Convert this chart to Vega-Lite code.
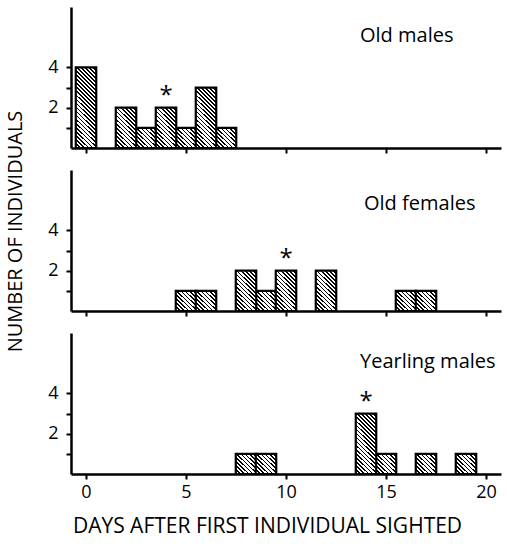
{
  "$schema": "https://vega.github.io/schema/vega-lite/v6.json",
  "padding": {"left": 5, "top": 7, "right": 5, "bottom": 5},
  "background": "white",
  "bounds": "flush",
  "spacing": 22,
  "datasets": {
    "d": [
      {"group": "Old males", "day": 0, "count": 4, "star": false},
      {"group": "Old males", "day": 2, "count": 2, "star": false},
      {"group": "Old males", "day": 3, "count": 1, "star": false},
      {"group": "Old males", "day": 4, "count": 2, "star": true},
      {"group": "Old males", "day": 5, "count": 1, "star": false},
      {"group": "Old males", "day": 6, "count": 3, "star": false},
      {"group": "Old males", "day": 7, "count": 1, "star": false},
      {"group": "Old females", "day": 5, "count": 1, "star": false},
      {"group": "Old females", "day": 6, "count": 1, "star": false},
      {"group": "Old females", "day": 8, "count": 2, "star": false},
      {"group": "Old females", "day": 9, "count": 1, "star": false},
      {"group": "Old females", "day": 10, "count": 2, "star": true},
      {"group": "Old females", "day": 12, "count": 2, "star": false},
      {"group": "Old females", "day": 16, "count": 1, "star": false},
      {"group": "Old females", "day": 17, "count": 1, "star": false},
      {"group": "Yearling males", "day": 8, "count": 1, "star": false},
      {"group": "Yearling males", "day": 9, "count": 1, "star": false},
      {"group": "Yearling males", "day": 14, "count": 3, "star": true},
      {"group": "Yearling males", "day": 15, "count": 1, "star": false},
      {"group": "Yearling males", "day": 17, "count": 1, "star": false},
      {"group": "Yearling males", "day": 19, "count": 1, "star": false}
    ]
  },
  "vconcat": [
    {
      "width": 430, "height": 141,
      "data": {"name": "d"},
      "transform": [{"filter": "datum.group == 'Old males'"}],
      "layer": [
        {
          "encoding": {
            "x": {"field": "day", "type": "quantitative", "scale": {"domain": [-0.5, 20.5], "nice": false, "zero": false},
                  "axis": {"values": [0, 5, 10, 15, 20], "labels": false, "title": null}},
            "y": {"field": "count", "type": "quantitative", "scale": {"domain": [0, 7], "nice": false},
                  "axis": {"values": [1, 2, 3, 4], "labelExpr": "datum.value % 2 == 0 ? datum.label : ''", "title": null, "labelPadding": 8}}
          },
          "layer": [
            {"transform": [{"filter": "datum.count == 1"}], "mark": {"type": "bar", "style": "h1", "width": 20.48, "stroke": "#000", "strokeWidth": 2.2}},
            {"transform": [{"filter": "datum.count == 2"}], "mark": {"type": "bar", "style": "h2", "width": 20.48, "stroke": "#000", "strokeWidth": 2.2}},
            {"transform": [{"filter": "datum.count == 3"}], "mark": {"type": "bar", "style": "h3", "width": 20.48, "stroke": "#000", "strokeWidth": 2.2}},
            {"transform": [{"filter": "datum.count == 4"}], "mark": {"type": "bar", "style": "h4", "width": 20.48, "stroke": "#000", "strokeWidth": 2.2}},
            {"transform": [{"filter": "datum.star"}], "mark": {"type": "text", "text": "*", "fontSize": 24, "dy": -12, "baseline": "middle", "color": "#000"}}
          ]
        },
        {"transform": [{"aggregate": [{"op": "count", "as": "n"}], "groupby": ["group"]}],
         "mark": {"type": "text", "align": "left", "baseline": "middle", "fontSize": 20, "color": "#000"},
         "encoding": {"x": {"datum": 13.7}, "y": {"datum": 5.55}, "text": {"field": "group", "type": "nominal"}}}
      ]
    },
    {
      "width": 430, "height": 141,
      "data": {"name": "d"},
      "transform": [{"filter": "datum.group == 'Old females'"}],
      "layer": [
        {
          "encoding": {
            "x": {"field": "day", "type": "quantitative", "scale": {"domain": [-0.5, 20.5], "nice": false, "zero": false},
                  "axis": {"values": [0, 5, 10, 15, 20], "labels": false, "title": null}},
            "y": {"field": "count", "type": "quantitative", "scale": {"domain": [0, 7], "nice": false},
                  "axis": {"values": [1, 2, 3, 4], "labelExpr": "datum.value % 2 == 0 ? datum.label : ''", "title": "NUMBER OF INDIVIDUALS", "titleFontSize": 20, "titleY": 61, "titlePadding": 22, "labelPadding": 8}}
          },
          "layer": [
            {"transform": [{"filter": "datum.count == 1"}], "mark": {"type": "bar", "style": "h1", "width": 20.48, "stroke": "#000", "strokeWidth": 2.2}},
            {"transform": [{"filter": "datum.count == 2"}], "mark": {"type": "bar", "style": "h2", "width": 20.48, "stroke": "#000", "strokeWidth": 2.2}},
            {"transform": [{"filter": "datum.count == 3"}], "mark": {"type": "bar", "style": "h3", "width": 20.48, "stroke": "#000", "strokeWidth": 2.2}},
            {"transform": [{"filter": "datum.star"}], "mark": {"type": "text", "text": "*", "fontSize": 24, "dy": -12, "baseline": "middle", "color": "#000"}}
          ]
        },
        {"transform": [{"aggregate": [{"op": "count", "as": "n"}], "groupby": ["group"]}],
         "mark": {"type": "text", "align": "left", "baseline": "middle", "fontSize": 20, "color": "#000"},
         "encoding": {"x": {"datum": 13.9}, "y": {"datum": 5.3}, "text": {"field": "group", "type": "nominal"}}}
      ]
    },
    {
      "width": 430, "height": 141,
      "data": {"name": "d"},
      "transform": [{"filter": "datum.group == 'Yearling males'"}],
      "layer": [
        {
          "encoding": {
            "x": {"field": "day", "type": "quantitative", "scale": {"domain": [-0.5, 20.5], "nice": false, "zero": false},
                  "axis": {"values": [0, 5, 10, 15, 20], "title": "DAYS AFTER FIRST INDIVIDUAL SIGHTED", "titleFontSize": 21, "titleX": 196, "titlePadding": 14, "labelPadding": 4}},
            "y": {"field": "count", "type": "quantitative", "scale": {"domain": [0, 7], "nice": false},
                  "axis": {"values": [1, 2, 3, 4], "labelExpr": "datum.value % 2 == 0 ? datum.label : ''", "title": null, "labelPadding": 8}}
          },
          "layer": [
            {"transform": [{"filter": "datum.count == 1"}], "mark": {"type": "bar", "style": "h1", "width": 20.48, "stroke": "#000", "strokeWidth": 2.2}},
            {"transform": [{"filter": "datum.count == 3"}], "mark": {"type": "bar", "style": "h3", "width": 20.48, "stroke": "#000", "strokeWidth": 2.2}},
            {"transform": [{"filter": "datum.star"}], "mark": {"type": "text", "text": "*", "fontSize": 24, "dy": -12, "baseline": "middle", "color": "#000"}}
          ]
        },
        {"transform": [{"aggregate": [{"op": "count", "as": "n"}], "groupby": ["group"]}],
         "mark": {"type": "text", "align": "left", "baseline": "middle", "fontSize": 20, "color": "#000"},
         "encoding": {"x": {"datum": 13.7}, "y": {"datum": 5.55}, "text": {"field": "group", "type": "nominal"}}}
      ]
    }
  ],
  "config": {
    "font": "Open Sans",
    "view": {"stroke": null},
    "axis": {"domainColor": "#000", "domainWidth": 2.5, "tickColor": "#000", "tickWidth": 2, "tickSize": 5, "grid": false,
             "labelColor": "#000", "labelFontSize": 18, "labelFont": "Open Sans", "titleColor": "#000", "titleFontSize": 18, "titleFontWeight": "normal", "titleFont": "Open Sans"},
    "style": {
      "h1": {"color": {"gradient": "linear", "x1": 0, "y1": 1, "x2": 1, "y2": 0, "stops": [
        {"offset": 0, "color": "#000"}, {"offset": 0.045, "color": "#000"}, {"offset": 0.045, "color": "#fff"}, {"offset": 0.1, "color": "#fff"},
        {"offset": 0.1, "color": "#000"}, {"offset": 0.145, "color": "#000"}, {"offset": 0.145, "color": "#fff"}, {"offset": 0.2, "color": "#fff"},
        {"offset": 0.2, "color": "#000"}, {"offset": 0.245, "color": "#000"}, {"offset": 0.245, "color": "#fff"}, {"offset": 0.3, "color": "#fff"},
        {"offset": 0.3, "color": "#000"}, {"offset": 0.345, "color": "#000"}, {"offset": 0.345, "color": "#fff"}, {"offset": 0.4, "color": "#fff"},
        {"offset": 0.4, "color": "#000"}, {"offset": 0.445, "color": "#000"}, {"offset": 0.445, "color": "#fff"}, {"offset": 0.5, "color": "#fff"},
        {"offset": 0.5, "color": "#000"}, {"offset": 0.545, "color": "#000"}, {"offset": 0.545, "color": "#fff"}, {"offset": 0.6, "color": "#fff"},
        {"offset": 0.6, "color": "#000"}, {"offset": 0.645, "color": "#000"}, {"offset": 0.645, "color": "#fff"}, {"offset": 0.7, "color": "#fff"},
        {"offset": 0.7, "color": "#000"}, {"offset": 0.745, "color": "#000"}, {"offset": 0.745, "color": "#fff"}, {"offset": 0.8, "color": "#fff"},
        {"offset": 0.8, "color": "#000"}, {"offset": 0.845, "color": "#000"}, {"offset": 0.845, "color": "#fff"}, {"offset": 0.9, "color": "#fff"},
        {"offset": 0.9, "color": "#000"}, {"offset": 0.945, "color": "#000"}, {"offset": 0.945, "color": "#fff"}, {"offset": 1, "color": "#fff"}
      ]}},
      "h2": {"color": {"gradient": "linear", "x1": 0, "y1": 1, "x2": 0.6, "y2": -0.2, "stops": [
        {"offset": 0, "color": "#000"}, {"offset": 0.03, "color": "#000"}, {"offset": 0.03, "color": "#fff"}, {"offset": 0.0667, "color": "#fff"},
        {"offset": 0.0667, "color": "#000"}, {"offset": 0.0967, "color": "#000"}, {"offset": 0.0967, "color": "#fff"}, {"offset": 0.1333, "color": "#fff"},
        {"offset": 0.1333, "color": "#000"}, {"offset": 0.1633, "color": "#000"}, {"offset": 0.1633, "color": "#fff"}, {"offset": 0.2, "color": "#fff"},
        {"offset": 0.2, "color": "#000"}, {"offset": 0.23, "color": "#000"}, {"offset": 0.23, "color": "#fff"}, {"offset": 0.2667, "color": "#fff"},
        {"offset": 0.2667, "color": "#000"}, {"offset": 0.2967, "color": "#000"}, {"offset": 0.2967, "color": "#fff"}, {"offset": 0.3333, "color": "#fff"},
        {"offset": 0.3333, "color": "#000"}, {"offset": 0.3633, "color": "#000"}, {"offset": 0.3633, "color": "#fff"}, {"offset": 0.4, "color": "#fff"},
        {"offset": 0.4, "color": "#000"}, {"offset": 0.43, "color": "#000"}, {"offset": 0.43, "color": "#fff"}, {"offset": 0.4667, "color": "#fff"},
        {"offset": 0.4667, "color": "#000"}, {"offset": 0.4967, "color": "#000"}, {"offset": 0.4967, "color": "#fff"}, {"offset": 0.5333, "color": "#fff"},
        {"offset": 0.5333, "color": "#000"}, {"offset": 0.5633, "color": "#000"}, {"offset": 0.5633, "color": "#fff"}, {"offset": 0.6, "color": "#fff"},
        {"offset": 0.6, "color": "#000"}, {"offset": 0.63, "color": "#000"}, {"offset": 0.63, "color": "#fff"}, {"offset": 0.6667, "color": "#fff"},
        {"offset": 0.6667, "color": "#000"}, {"offset": 0.6967, "color": "#000"}, {"offset": 0.6967, "color": "#fff"}, {"offset": 0.7333, "color": "#fff"},
        {"offset": 0.7333, "color": "#000"}, {"offset": 0.7633, "color": "#000"}, {"offset": 0.7633, "color": "#fff"}, {"offset": 0.8, "color": "#fff"},
        {"offset": 0.8, "color": "#000"}, {"offset": 0.83, "color": "#000"}, {"offset": 0.83, "color": "#fff"}, {"offset": 0.8667, "color": "#fff"},
        {"offset": 0.8667, "color": "#000"}, {"offset": 0.8967, "color": "#000"}, {"offset": 0.8967, "color": "#fff"}, {"offset": 0.9333, "color": "#fff"},
        {"offset": 0.9333, "color": "#000"}, {"offset": 0.9633, "color": "#000"}, {"offset": 0.9633, "color": "#fff"}, {"offset": 1, "color": "#fff"}
      ]}},
      "h3": {"color": {"gradient": "linear", "x1": 0, "y1": 1, "x2": 0.4, "y2": -0.2, "stops": [
        {"offset": 0, "color": "#000"}, {"offset": 0.0225, "color": "#000"}, {"offset": 0.0225, "color": "#fff"}, {"offset": 0.05, "color": "#fff"},
        {"offset": 0.05, "color": "#000"}, {"offset": 0.0725, "color": "#000"}, {"offset": 0.0725, "color": "#fff"}, {"offset": 0.1, "color": "#fff"},
        {"offset": 0.1, "color": "#000"}, {"offset": 0.1225, "color": "#000"}, {"offset": 0.1225, "color": "#fff"}, {"offset": 0.15, "color": "#fff"},
        {"offset": 0.15, "color": "#000"}, {"offset": 0.1725, "color": "#000"}, {"offset": 0.1725, "color": "#fff"}, {"offset": 0.2, "color": "#fff"},
        {"offset": 0.2, "color": "#000"}, {"offset": 0.2225, "color": "#000"}, {"offset": 0.2225, "color": "#fff"}, {"offset": 0.25, "color": "#fff"},
        {"offset": 0.25, "color": "#000"}, {"offset": 0.2725, "color": "#000"}, {"offset": 0.2725, "color": "#fff"}, {"offset": 0.3, "color": "#fff"},
        {"offset": 0.3, "color": "#000"}, {"offset": 0.3225, "color": "#000"}, {"offset": 0.3225, "color": "#fff"}, {"offset": 0.35, "color": "#fff"},
        {"offset": 0.35, "color": "#000"}, {"offset": 0.3725, "color": "#000"}, {"offset": 0.3725, "color": "#fff"}, {"offset": 0.4, "color": "#fff"},
        {"offset": 0.4, "color": "#000"}, {"offset": 0.4225, "color": "#000"}, {"offset": 0.4225, "color": "#fff"}, {"offset": 0.45, "color": "#fff"},
        {"offset": 0.45, "color": "#000"}, {"offset": 0.4725, "color": "#000"}, {"offset": 0.4725, "color": "#fff"}, {"offset": 0.5, "color": "#fff"},
        {"offset": 0.5, "color": "#000"}, {"offset": 0.5225, "color": "#000"}, {"offset": 0.5225, "color": "#fff"}, {"offset": 0.55, "color": "#fff"},
        {"offset": 0.55, "color": "#000"}, {"offset": 0.5725, "color": "#000"}, {"offset": 0.5725, "color": "#fff"}, {"offset": 0.6, "color": "#fff"},
        {"offset": 0.6, "color": "#000"}, {"offset": 0.6225, "color": "#000"}, {"offset": 0.6225, "color": "#fff"}, {"offset": 0.65, "color": "#fff"},
        {"offset": 0.65, "color": "#000"}, {"offset": 0.6725, "color": "#000"}, {"offset": 0.6725, "color": "#fff"}, {"offset": 0.7, "color": "#fff"},
        {"offset": 0.7, "color": "#000"}, {"offset": 0.7225, "color": "#000"}, {"offset": 0.7225, "color": "#fff"}, {"offset": 0.75, "color": "#fff"},
        {"offset": 0.75, "color": "#000"}, {"offset": 0.7725, "color": "#000"}, {"offset": 0.7725, "color": "#fff"}, {"offset": 0.8, "color": "#fff"},
        {"offset": 0.8, "color": "#000"}, {"offset": 0.8225, "color": "#000"}, {"offset": 0.8225, "color": "#fff"}, {"offset": 0.85, "color": "#fff"},
        {"offset": 0.85, "color": "#000"}, {"offset": 0.8725, "color": "#000"}, {"offset": 0.8725, "color": "#fff"}, {"offset": 0.9, "color": "#fff"},
        {"offset": 0.9, "color": "#000"}, {"offset": 0.9225, "color": "#000"}, {"offset": 0.9225, "color": "#fff"}, {"offset": 0.95, "color": "#fff"},
        {"offset": 0.95, "color": "#000"}, {"offset": 0.9725, "color": "#000"}, {"offset": 0.9725, "color": "#fff"}, {"offset": 1, "color": "#fff"}
      ]}},
      "h4": {"color": {"gradient": "linear", "x1": 0, "y1": 1, "x2": 0.2941, "y2": -0.1765, "stops": [
        {"offset": 0, "color": "#000"}, {"offset": 0.018, "color": "#000"}, {"offset": 0.018, "color": "#fff"}, {"offset": 0.04, "color": "#fff"},
        {"offset": 0.04, "color": "#000"}, {"offset": 0.058, "color": "#000"}, {"offset": 0.058, "color": "#fff"}, {"offset": 0.08, "color": "#fff"},
        {"offset": 0.08, "color": "#000"}, {"offset": 0.098, "color": "#000"}, {"offset": 0.098, "color": "#fff"}, {"offset": 0.12, "color": "#fff"},
        {"offset": 0.12, "color": "#000"}, {"offset": 0.138, "color": "#000"}, {"offset": 0.138, "color": "#fff"}, {"offset": 0.16, "color": "#fff"},
        {"offset": 0.16, "color": "#000"}, {"offset": 0.178, "color": "#000"}, {"offset": 0.178, "color": "#fff"}, {"offset": 0.2, "color": "#fff"},
        {"offset": 0.2, "color": "#000"}, {"offset": 0.218, "color": "#000"}, {"offset": 0.218, "color": "#fff"}, {"offset": 0.24, "color": "#fff"},
        {"offset": 0.24, "color": "#000"}, {"offset": 0.258, "color": "#000"}, {"offset": 0.258, "color": "#fff"}, {"offset": 0.28, "color": "#fff"},
        {"offset": 0.28, "color": "#000"}, {"offset": 0.298, "color": "#000"}, {"offset": 0.298, "color": "#fff"}, {"offset": 0.32, "color": "#fff"},
        {"offset": 0.32, "color": "#000"}, {"offset": 0.338, "color": "#000"}, {"offset": 0.338, "color": "#fff"}, {"offset": 0.36, "color": "#fff"},
        {"offset": 0.36, "color": "#000"}, {"offset": 0.378, "color": "#000"}, {"offset": 0.378, "color": "#fff"}, {"offset": 0.4, "color": "#fff"},
        {"offset": 0.4, "color": "#000"}, {"offset": 0.418, "color": "#000"}, {"offset": 0.418, "color": "#fff"}, {"offset": 0.44, "color": "#fff"},
        {"offset": 0.44, "color": "#000"}, {"offset": 0.458, "color": "#000"}, {"offset": 0.458, "color": "#fff"}, {"offset": 0.48, "color": "#fff"},
        {"offset": 0.48, "color": "#000"}, {"offset": 0.498, "color": "#000"}, {"offset": 0.498, "color": "#fff"}, {"offset": 0.52, "color": "#fff"},
        {"offset": 0.52, "color": "#000"}, {"offset": 0.538, "color": "#000"}, {"offset": 0.538, "color": "#fff"}, {"offset": 0.56, "color": "#fff"},
        {"offset": 0.56, "color": "#000"}, {"offset": 0.578, "color": "#000"}, {"offset": 0.578, "color": "#fff"}, {"offset": 0.6, "color": "#fff"},
        {"offset": 0.6, "color": "#000"}, {"offset": 0.618, "color": "#000"}, {"offset": 0.618, "color": "#fff"}, {"offset": 0.64, "color": "#fff"},
        {"offset": 0.64, "color": "#000"}, {"offset": 0.658, "color": "#000"}, {"offset": 0.658, "color": "#fff"}, {"offset": 0.68, "color": "#fff"},
        {"offset": 0.68, "color": "#000"}, {"offset": 0.698, "color": "#000"}, {"offset": 0.698, "color": "#fff"}, {"offset": 0.72, "color": "#fff"},
        {"offset": 0.72, "color": "#000"}, {"offset": 0.738, "color": "#000"}, {"offset": 0.738, "color": "#fff"}, {"offset": 0.76, "color": "#fff"},
        {"offset": 0.76, "color": "#000"}, {"offset": 0.778, "color": "#000"}, {"offset": 0.778, "color": "#fff"}, {"offset": 0.8, "color": "#fff"},
        {"offset": 0.8, "color": "#000"}, {"offset": 0.818, "color": "#000"}, {"offset": 0.818, "color": "#fff"}, {"offset": 0.84, "color": "#fff"},
        {"offset": 0.84, "color": "#000"}, {"offset": 0.858, "color": "#000"}, {"offset": 0.858, "color": "#fff"}, {"offset": 0.88, "color": "#fff"},
        {"offset": 0.88, "color": "#000"}, {"offset": 0.898, "color": "#000"}, {"offset": 0.898, "color": "#fff"}, {"offset": 0.92, "color": "#fff"},
        {"offset": 0.92, "color": "#000"}, {"offset": 0.938, "color": "#000"}, {"offset": 0.938, "color": "#fff"}, {"offset": 0.96, "color": "#fff"},
        {"offset": 0.96, "color": "#000"}, {"offset": 0.978, "color": "#000"}, {"offset": 0.978, "color": "#fff"}, {"offset": 1, "color": "#fff"}
      ]}}
    }
  }
}
